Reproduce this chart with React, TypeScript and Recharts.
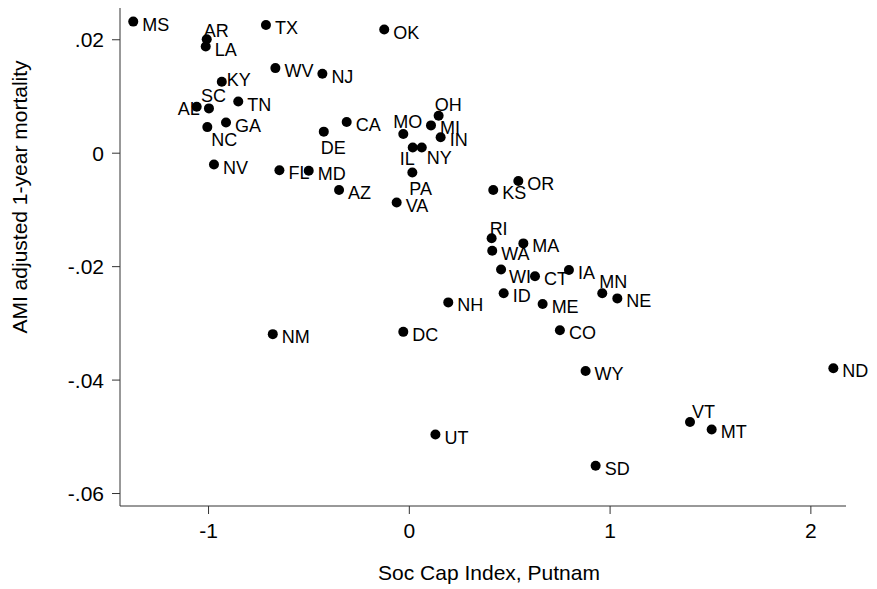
import React from 'react';
import { ScatterChart, Scatter, XAxis, YAxis } from 'recharts';

// state abbreviations, social capital index (x), adjusted AMI 1-year mortality (y)
const states = [
  'MS', 'AR', 'LA', 'TX', 'OK', 'WV', 'NJ', 'KY', 'TN', 'AL',
  'SC', 'GA', 'NC', 'NV', 'FL', 'MD', 'CA', 'DE', 'MO', 'OH',
  'MI', 'IN', 'IL', 'NY', 'PA', 'AZ', 'VA', 'KS', 'OR', 'RI',
  'WA', 'MA', 'WI', 'CT', 'IA', 'MN', 'NE', 'ID', 'NH', 'ME',
  'DC', 'CO', 'NM', 'WY', 'ND', 'UT', 'VT', 'MT', 'SD',
];

const socCap = [
  -1.375, -1.009, -1.014, -0.714, -0.125, -0.667, -0.433, -0.934, -0.852, -1.059,
  -0.998, -0.913, -1.006, -0.973, -0.647, -0.501, -0.312, -0.426, -0.03, 0.146,
  0.108, 0.156, 0.017, 0.062, 0.015, -0.35, -0.063, 0.418, 0.543, 0.41,
  0.413, 0.568, 0.457, 0.626, 0.795, 0.961, 1.036, 0.47, 0.194, 0.664,
  -0.03, 0.75, -0.68, 0.878, 2.112, 0.13, 1.398, 1.506, 0.928,
];

const mortality = [
  0.0232, 0.0201, 0.0188, 0.0226, 0.0218, 0.015, 0.014, 0.0126, 0.0091, 0.0082,
  0.0079, 0.0054, 0.0046, -0.002, -0.003, -0.0031, 0.0055, 0.0038, 0.0034, 0.0066,
  0.0049, 0.0028, 0.001, 0.001, -0.0034, -0.0065, -0.0087, -0.0065, -0.0049, -0.015,
  -0.0172, -0.0159, -0.0205, -0.0217, -0.0206, -0.0247, -0.0256, -0.0247, -0.0263, -0.0266,
  -0.0315, -0.0312, -0.0319, -0.0384, -0.0379, -0.0496, -0.0474, -0.0487, -0.0551,
];

const xTicks = [-1, 0, 1, 2];
const yTicks = [-0.06, -0.04, -0.02, 0, 0.02];

const data = states.map((state, i) => ({ state, x: socCap[i], y: mortality[i] }));

// marker label placement (offset of text from the dot)
const defaultOffset = { dx: 9, dy: 9, anchor: 'start' };
const labelOffsets: Record<string, { dx: number; dy: number; anchor?: string }> = {
  AR: { dx: -3, dy: -2 },
  KY: { dx: 5, dy: 4 },
  SC: { dx: -8, dy: -6 },
  AL: { dx: 3, dy: 8, anchor: 'end' },
  NC: { dx: 4, dy: 19 },
  DE: { dx: -3, dy: 22 },
  MO: { dx: -10, dy: -6 },
  OH: { dx: -4, dy: -5 },
  IL: { dx: -13, dy: 17 },
  NY: { dx: 5, dy: 16 },
  PA: { dx: -3, dy: 23 },
  RI: { dx: -2, dy: -3 },
  WI: { dx: 8, dy: 14 },
  MN: { dx: -3, dy: -5 },
  VT: { dx: 2, dy: -4 },
};

const FONT = '"Liberation Sans", Arial, Helvetica, sans-serif';
const AXIS_COLOR = '#333';

const fmtY = (v: number) => {
  if (v === 0) return '0';
  return (v < 0 ? '-' : '') + Math.abs(v).toFixed(2).replace(/^0/, '');
};

const renderPoint = (props: any) => {
  const { cx, cy, payload } = props;
  const off = { ...defaultOffset, ...(labelOffsets[payload.state] || {}) };
  return (
    <g>
      <circle cx={cx} cy={cy} r={5} fill="#000" />
      <text
        x={cx + off.dx}
        y={cy + off.dy}
        textAnchor={off.anchor as any}
        fontSize={18}
        fontFamily={FONT}
        fill="#000"
      >
        {payload.state}
      </text>
    </g>
  );
};

const XTitle = () => (
  <text x={489} y={580} textAnchor="middle" fontSize={21} fontFamily={FONT} fill="#000">
    Soc Cap Index, Putnam
  </text>
);

const YTitle = () => (
  <text
    x={27}
    y={197}
    transform="rotate(-90, 27, 197)"
    textAnchor="middle"
    fontSize={21}
    fontFamily={FONT}
    fill="#000"
  >
    AMI adjusted 1-year mortality
  </text>
);

const App: React.FC = () => {
  return (
    <div style={{ position: 'absolute', left: 0, top: 0, width: 877, height: 589, background: '#fff' }}>
      <ScatterChart width={877} height={589} margin={{ top: 8, right: 31, bottom: 0, left: 0 }}>
        <XAxis
          type="number"
          dataKey="x"
          domain={[-1.441, 2.175]}
          ticks={xTicks}
          height={83}
          tickSize={8}
          tickMargin={9}
          stroke={AXIS_COLOR}
          tick={{ fontSize: 21, fontFamily: FONT, fill: '#000' }}
          label={<XTitle />}
        />
        <YAxis
          type="number"
          dataKey="y"
          domain={[-0.0622, 0.0256]}
          ticks={yTicks}
          width={120}
          tickSize={8}
          tickMargin={8}
          tickFormatter={fmtY}
          stroke={AXIS_COLOR}
          tick={{ fontSize: 21, fontFamily: FONT, fill: '#000' }}
          label={<YTitle />}
        />
        <Scatter data={data} shape={renderPoint} isAnimationActive={false} />
      </ScatterChart>
    </div>
  );
};

export default App;
